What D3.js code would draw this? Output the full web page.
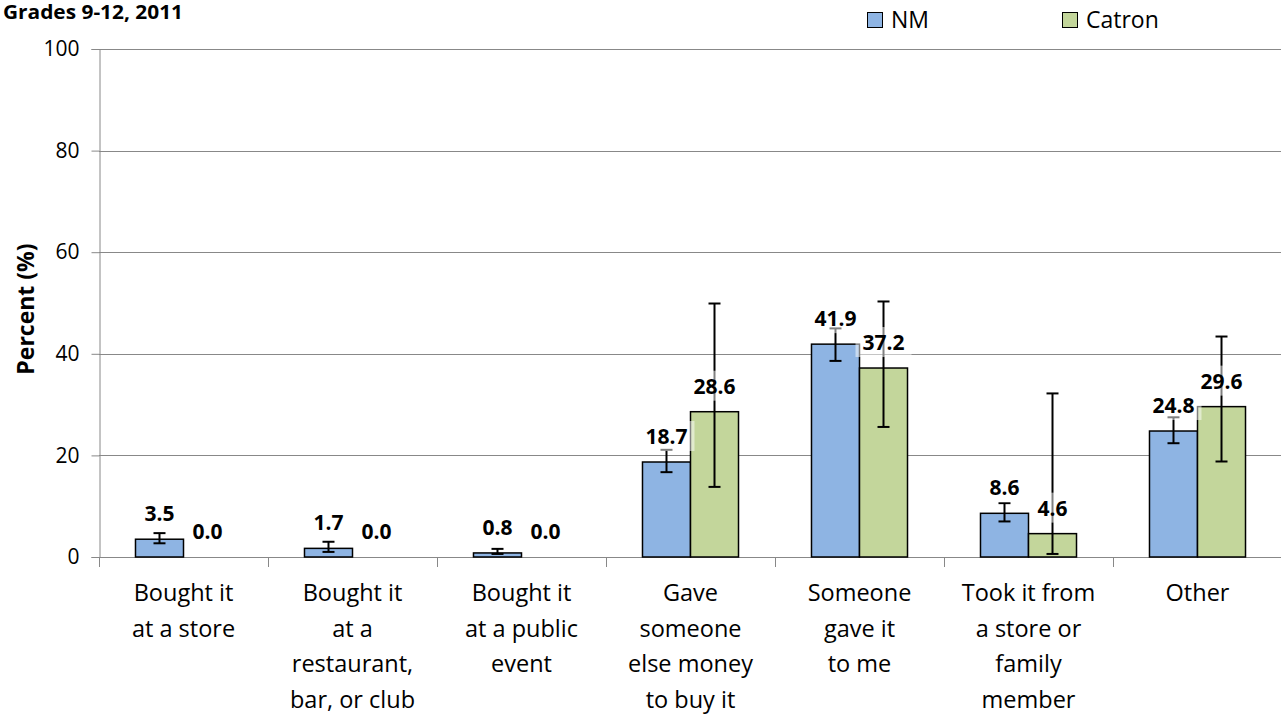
<!DOCTYPE html>
<html>
<head>
<meta charset="utf-8">
<script src="https://cdn.jsdelivr.net/npm/d3@7"></script>
<style>
  html, body { margin: 0; padding: 0; background: #fff; }
  svg { display: block; font-family: "Open Sans", sans-serif; }
</style>
</head>
<body>
<svg id="chart" width="1281" height="715"></svg>
<script>
// ---- data ----
const categories = [
  "Bought it\nat a store",
  "Bought it\nat a\nrestaurant,\nbar, or club",
  "Bought it\nat a public\nevent",
  "Gave\nsomeone\nelse money\nto buy it",
  "Someone\ngave it\nto me",
  "Took it from\na store or\nfamily\nmember",
  "Other"
];
const seriesNames = ["NM", "Catron"];
const nmValues     = [3.5, 1.7, 0.8, 18.7, 41.9, 8.6, 24.8];
const nmLower      = [2.7, 1.0, 0.6, 16.7, 38.6, 7.0, 22.4];
const nmUpper      = [4.7, 3.0, 1.6, 21.1, 45.0, 10.6, 27.5];
const catronValues = [0.0, 0.0, 0.0, 28.6, 37.2, 4.6, 29.6];
const catronLower  = [null, null, null, 13.8, 25.6, 0.6, 18.8];
const catronUpper  = [null, null, null, 49.9, 50.3, 32.2, 43.4];
const yTicks = [0, 20, 40, 60, 80, 100];
const titleText = "Grades 9-12, 2011";
const yTitle = "Percent (%)";
const colors = { NM: "#8EB4E3", Catron: "#C3D69B" };

(function () {
const rows = [];
categories.forEach((c, i) => {
  rows.push({ cat: c, s: "NM", v: nmValues[i], lo: nmLower[i], hi: nmUpper[i] });
  rows.push({ cat: c, s: "Catron", v: catronValues[i], lo: catronLower[i], hi: catronUpper[i] });
});

// ---- layout ----
const svg = d3.select("#chart");
const mLeft = 99, mRight = 1282, mTop = 49, mBottom = 557;

const x = d3.scaleBand().domain(categories).range([mLeft, mRight]).padding(0);
const xs = d3.scaleBand().domain(seriesNames).range([0, x.bandwidth()]).paddingInner(0).paddingOuter(0.76);
const y = d3.scaleLinear().domain([0, 100]).range([mBottom, mTop]);

const grid = "#888888";

// gridlines
svg.append("g").selectAll("line").data(yTicks.filter(t => t > 0)).join("line")
  .attr("x1", mLeft).attr("x2", mRight)
  .attr("y1", d => Math.round(y(d)) + 0.5).attr("y2", d => Math.round(y(d)) + 0.5)
  .attr("stroke", grid).attr("stroke-width", 1);

// y axis
const yAxis = d3.axisLeft(y).tickValues(yTicks).tickSize(8).tickPadding(12).tickFormat(d3.format("d"));
const gy = svg.append("g").attr("transform", `translate(${mLeft + 0.5},0)`).call(yAxis);
gy.select(".domain").attr("stroke", grid);
gy.selectAll(".tick line").attr("stroke", grid);
gy.selectAll(".tick text").attr("font-size", 21).attr("fill", "#000")
  .attr("font-family", "Open Sans, sans-serif");

// x axis
const boundaries = d3.range(categories.length + 1).map(i => mLeft + i * x.step());
svg.append("line").attr("x1", mLeft).attr("x2", mRight)
  .attr("y1", mBottom + 0.5).attr("y2", mBottom + 0.5).attr("stroke", grid);
svg.append("g").selectAll("line").data(boundaries).join("line")
  .attr("x1", d => Math.round(d) + 0.5).attr("x2", d => Math.round(d) + 0.5)
  .attr("y1", mBottom).attr("y2", mBottom + 10).attr("stroke", grid);

const xl = svg.append("g").selectAll("text").data(categories).join("text")
  .attr("text-anchor", "middle").attr("font-size", 23.5).attr("fill", "#000")
  .attr("transform", d => `translate(${x(d) + x.bandwidth() / 2},601)`);
xl.each(function(d) {
  const t = d3.select(this);
  d.split("\n").forEach((line, i) => {
    t.append("tspan").attr("x", 0).attr("y", i * 35.5).text(line);
  });
});

// bars
svg.append("g").selectAll("rect").data(rows).join("rect")
  .attr("x", d => x(d.cat) + xs(d.s))
  .attr("width", xs.bandwidth())
  .attr("y", d => y(d.v))
  .attr("height", d => y(0) - y(d.v))
  .attr("fill", d => colors[d.s])
  .attr("stroke", d => d.v === 0 ? "#999" : "#000")
  .attr("stroke-width", 1.5);

// error bars
const eb = svg.append("g").selectAll("g").data(rows.filter(d => d.lo != null)).join("g")
  .attr("stroke", "#000").attr("stroke-width", 2);
eb.append("line")
  .attr("x1", d => x(d.cat) + xs(d.s) + xs.bandwidth() / 2)
  .attr("x2", d => x(d.cat) + xs(d.s) + xs.bandwidth() / 2)
  .attr("y1", d => y(d.lo)).attr("y2", d => y(d.hi));
["lo", "hi"].forEach(k => {
  eb.append("line")
    .attr("x1", d => x(d.cat) + xs(d.s) + xs.bandwidth() / 2 - 6)
    .attr("x2", d => x(d.cat) + xs(d.s) + xs.bandwidth() / 2 + 6)
    .attr("y1", d => y(d[k])).attr("y2", d => y(d[k]));
});

// data labels with semi-transparent boxes
const lg = svg.append("g").selectAll("g").data(rows).join("g")
  .attr("transform", d => `translate(${x(d.cat) + xs(d.s) + xs.bandwidth() / 2},${y(d.v) - 18})`);
lg.append("text").attr("text-anchor", "middle").attr("font-size", 21)
  .attr("font-weight", "bold").attr("fill", "#000").text(d => d3.format(".1f")(d.v));
lg.each(function() {
  const g = d3.select(this);
  const bb = g.select("text").node().getBBox();
  g.insert("rect", "text")
    .attr("x", bb.x - 7).attr("y", bb.y - 1)
    .attr("width", bb.width + 14).attr("height", bb.height + 2)
    .attr("fill", "#fff").attr("fill-opacity", 0.5);
});

// y title
svg.append("text").attr("transform", `translate(34,${(mTop + mBottom) / 2 + 6}) rotate(-90)`)
  .attr("text-anchor", "middle").attr("font-size", 23).attr("font-weight", "bold")
  .attr("fill", "#000").text(yTitle);

// title
svg.append("text").attr("x", 3).attr("y", 19).attr("text-anchor", "start")
  .attr("textLength", 180).attr("lengthAdjust", "spacingAndGlyphs")
  .attr("font-size", 19).attr("font-weight", "bold").attr("fill", "#000").text(titleText);

// legend
const legendX = [867, 1062];
const leg = svg.append("g").selectAll("g").data(seriesNames).join("g")
  .attr("transform", (d, i) => `translate(${legendX[i]},12)`);
leg.append("rect").attr("x", 0.5).attr("y", 0.5).attr("width", 15).attr("height", 15)
  .attr("fill", d => colors[d]).attr("stroke", "#000").attr("stroke-width", 1);
leg.append("text").attr("x", 24).attr("y", 16).attr("font-size", 23).attr("fill", "#000").text(d => d);
})();
</script>
</body>
</html>
